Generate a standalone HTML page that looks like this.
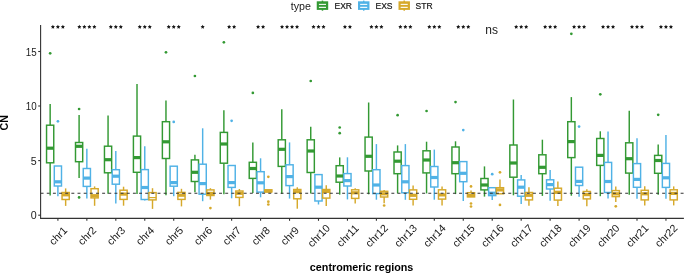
<!DOCTYPE html>
<html><head><meta charset="utf-8"><style>
html,body{margin:0;padding:0;background:#fff;}
svg{display:block;will-change:transform;font-family:"Liberation Sans",sans-serif;}
</style></head><body>
<svg width="685" height="274" viewBox="0 0 685 274">
<rect width="685" height="274" fill="#fff"/>
<!-- legend -->
<text x="290.8" y="10.2" font-size="10.67" fill="#1A1A1A">type</text>
<line x1="322.47" y1="0.6" x2="322.47" y2="10.7" stroke="#339933" stroke-width="1.5"/><rect x="316.75" y="1.3" width="11.45" height="8.6" fill="#339933"/><rect x="318.9" y="3.85" width="7.1" height="1.05" fill="#fff"/><rect x="318.9" y="6.8" width="7.1" height="1.1" fill="#fff"/>
<text x="334.5" y="9.0" font-size="8.53" fill="#1A1A1A" stroke="#1A1A1A" stroke-width="0.22">EXR</text>
<line x1="363.72" y1="0.6" x2="363.72" y2="10.7" stroke="#50B2E6" stroke-width="1.5"/><rect x="358" y="1.3" width="11.45" height="8.6" fill="#50B2E6"/><rect x="360.15" y="3.85" width="7.1" height="1.05" fill="#fff"/><rect x="360.15" y="6.8" width="7.1" height="1.1" fill="#fff"/>
<text x="375.5" y="9.0" font-size="8.53" fill="#1A1A1A" stroke="#1A1A1A" stroke-width="0.22">EXS</text>
<line x1="404.22" y1="0.6" x2="404.22" y2="10.7" stroke="#D6A92B" stroke-width="1.5"/><rect x="398.5" y="1.3" width="11.45" height="8.6" fill="#D6A92B"/><rect x="400.65" y="3.85" width="7.1" height="1.05" fill="#fff"/><rect x="400.65" y="6.8" width="7.1" height="1.1" fill="#fff"/>
<text x="415.6" y="9.0" font-size="8.53" fill="#1A1A1A" stroke="#1A1A1A" stroke-width="0.22">STR</text>
<!-- boxes -->
<g stroke="#339933" stroke-width="1.45"><line x1="50.15" y1="103.9" x2="50.15" y2="125.2"/><line x1="50.15" y1="162.8" x2="50.15" y2="195.5"/><rect x="46.55" y="125.2" width="7.2" height="37.6" fill="#fff"/><line x1="46.55" y1="148.2" x2="53.75" y2="148.2" stroke-width="3.2"/></g>
<circle cx="50.15" cy="53.3" r="1.35" fill="#339933"/>
<g stroke="#50B2E6" stroke-width="1.45"><line x1="57.9" y1="186" x2="57.9" y2="196.3"/><rect x="54.3" y="166" width="7.2" height="20" fill="#fff"/><line x1="54.3" y1="181.8" x2="61.5" y2="181.8" stroke-width="3.2"/></g>
<circle cx="57.9" cy="121.3" r="1.35" fill="#50B2E6"/>
<g stroke="#D6A92B" stroke-width="1.45"><line x1="65.65" y1="188.4" x2="65.65" y2="192.5"/><line x1="65.65" y1="199.5" x2="65.65" y2="205.9"/><rect x="62.05" y="192.5" width="7.2" height="7" fill="#fff"/><line x1="62.05" y1="194.8" x2="69.25" y2="194.8" stroke-width="3.2"/></g>
<g stroke="#339933" stroke-width="1.45"><line x1="79.1" y1="114.9" x2="79.1" y2="142.5"/><line x1="79.1" y1="161.7" x2="79.1" y2="178.1"/><rect x="75.5" y="142.5" width="7.2" height="19.2" fill="#fff"/><line x1="75.5" y1="146.3" x2="82.7" y2="146.3" stroke-width="3.2"/></g>
<circle cx="79.1" cy="109" r="1.35" fill="#339933"/>
<circle cx="79.1" cy="197.4" r="1.35" fill="#339933"/>
<g stroke="#50B2E6" stroke-width="1.45"><line x1="86.85" y1="148.7" x2="86.85" y2="168.5"/><line x1="86.85" y1="186.4" x2="86.85" y2="198.5"/><rect x="83.25" y="168.5" width="7.2" height="17.9" fill="#fff"/><line x1="83.25" y1="178.1" x2="90.45" y2="178.1" stroke-width="3.2"/></g>
<g stroke="#D6A92B" stroke-width="1.45"><line x1="94.6" y1="186.4" x2="94.6" y2="188.7"/><line x1="94.6" y1="197.9" x2="94.6" y2="205.8"/><rect x="91" y="188.7" width="7.2" height="9.2" fill="#fff"/><line x1="91" y1="195.7" x2="98.2" y2="195.7" stroke-width="3.2"/></g>
<g stroke="#339933" stroke-width="1.45"><line x1="108.06" y1="115.4" x2="108.06" y2="146.2"/><line x1="108.06" y1="172.8" x2="108.06" y2="193.7"/><rect x="104.46" y="146.2" width="7.2" height="26.6" fill="#fff"/><line x1="104.46" y1="159.7" x2="111.66" y2="159.7" stroke-width="3.2"/></g>
<g stroke="#50B2E6" stroke-width="1.45"><line x1="115.81" y1="151.1" x2="115.81" y2="169.7"/><line x1="115.81" y1="184.2" x2="115.81" y2="203.6"/><rect x="112.21" y="169.7" width="7.2" height="14.5" fill="#fff"/><line x1="112.21" y1="176.2" x2="119.41" y2="176.2" stroke-width="3.2"/></g>
<g stroke="#D6A92B" stroke-width="1.45"><line x1="123.56" y1="186.7" x2="123.56" y2="190.2"/><line x1="123.56" y1="199.4" x2="123.56" y2="205.7"/><rect x="119.96" y="190.2" width="7.2" height="9.2" fill="#fff"/><line x1="119.96" y1="194.1" x2="127.16" y2="194.1" stroke-width="3.2"/></g>
<g stroke="#339933" stroke-width="1.45"><line x1="137.01" y1="84" x2="137.01" y2="136.1"/><line x1="137.01" y1="172.3" x2="137.01" y2="193.9"/><rect x="133.41" y="136.1" width="7.2" height="36.2" fill="#fff"/><line x1="133.41" y1="157.6" x2="140.61" y2="157.6" stroke-width="3.2"/></g>
<g stroke="#50B2E6" stroke-width="1.45"><line x1="144.76" y1="146.3" x2="144.76" y2="169.6"/><line x1="144.76" y1="199.5" x2="144.76" y2="200.6"/><rect x="141.16" y="169.6" width="7.2" height="29.9" fill="#fff"/><line x1="141.16" y1="187.5" x2="148.36" y2="187.5" stroke-width="3.2"/></g>
<g stroke="#D6A92B" stroke-width="1.45"><line x1="152.51" y1="188.2" x2="152.51" y2="192.6"/><line x1="152.51" y1="199.9" x2="152.51" y2="208.9"/><rect x="148.91" y="192.6" width="7.2" height="7.3" fill="#fff"/><line x1="148.91" y1="197.6" x2="156.11" y2="197.6" stroke-width="1.2"/></g>
<g stroke="#339933" stroke-width="1.45"><line x1="165.97" y1="100.5" x2="165.97" y2="121.7"/><line x1="165.97" y1="158.5" x2="165.97" y2="195.2"/><rect x="162.37" y="121.7" width="7.2" height="36.8" fill="#fff"/><line x1="162.37" y1="141.8" x2="169.57" y2="141.8" stroke-width="3.2"/></g>
<circle cx="165.97" cy="52.3" r="1.35" fill="#339933"/>
<g stroke="#50B2E6" stroke-width="1.45"><line x1="173.72" y1="186.2" x2="173.72" y2="196.2"/><rect x="170.12" y="166.2" width="7.2" height="20" fill="#fff"/><line x1="170.12" y1="182.6" x2="177.32" y2="182.6" stroke-width="3.2"/></g>
<circle cx="173.72" cy="121.9" r="1.35" fill="#50B2E6"/>
<g stroke="#D6A92B" stroke-width="1.45"><line x1="181.47" y1="188.8" x2="181.47" y2="192.4"/><line x1="181.47" y1="199.4" x2="181.47" y2="206.4"/><rect x="177.87" y="192.4" width="7.2" height="7" fill="#fff"/><line x1="177.87" y1="195.2" x2="185.07" y2="195.2" stroke-width="3.2"/></g>
<g stroke="#339933" stroke-width="1.45"><line x1="194.92" y1="154.7" x2="194.92" y2="159.9"/><line x1="194.92" y1="181.5" x2="194.92" y2="192.2"/><rect x="191.32" y="159.9" width="7.2" height="21.6" fill="#fff"/><line x1="191.32" y1="172.3" x2="198.52" y2="172.3" stroke-width="3.2"/></g>
<circle cx="194.92" cy="76" r="1.35" fill="#339933"/>
<g stroke="#50B2E6" stroke-width="1.45"><line x1="202.67" y1="128.3" x2="202.67" y2="164.2"/><line x1="202.67" y1="194.2" x2="202.67" y2="201.2"/><rect x="199.07" y="164.2" width="7.2" height="30" fill="#fff"/><line x1="199.07" y1="183.6" x2="206.27" y2="183.6" stroke-width="3.2"/></g>
<g stroke="#D6A92B" stroke-width="1.45"><line x1="210.42" y1="188.2" x2="210.42" y2="189.9"/><line x1="210.42" y1="195.5" x2="210.42" y2="199.6"/><rect x="206.82" y="189.9" width="7.2" height="5.6" fill="#fff"/><line x1="206.82" y1="193.4" x2="214.02" y2="193.4" stroke-width="3.2"/></g>
<circle cx="210.42" cy="208.1" r="1.35" fill="#D6A92B"/>
<g stroke="#339933" stroke-width="1.45"><line x1="223.88" y1="110.2" x2="223.88" y2="132.4"/><line x1="223.88" y1="163.2" x2="223.88" y2="194.3"/><rect x="220.28" y="132.4" width="7.2" height="30.8" fill="#fff"/><line x1="220.28" y1="144" x2="227.48" y2="144" stroke-width="3.2"/></g>
<circle cx="223.88" cy="42.3" r="1.35" fill="#339933"/>
<g stroke="#50B2E6" stroke-width="1.45"><line x1="231.63" y1="187.4" x2="231.63" y2="198.3"/><rect x="228.03" y="165.5" width="7.2" height="21.9" fill="#fff"/><line x1="228.03" y1="182.6" x2="235.23" y2="182.6" stroke-width="3.2"/></g>
<circle cx="231.63" cy="120.8" r="1.35" fill="#50B2E6"/>
<g stroke="#D6A92B" stroke-width="1.45"><line x1="239.38" y1="189" x2="239.38" y2="191"/><line x1="239.38" y1="197.4" x2="239.38" y2="206.2"/><rect x="235.78" y="191" width="7.2" height="6.4" fill="#fff"/><line x1="235.78" y1="193.3" x2="242.98" y2="193.3" stroke-width="3.2"/></g>
<g stroke="#339933" stroke-width="1.45"><line x1="252.83" y1="142.6" x2="252.83" y2="162.3"/><line x1="252.83" y1="178.4" x2="252.83" y2="192.9"/><rect x="249.23" y="162.3" width="7.2" height="16.1" fill="#fff"/><line x1="249.23" y1="168.5" x2="256.44" y2="168.5" stroke-width="3.2"/></g>
<circle cx="252.83" cy="92.9" r="1.35" fill="#339933"/>
<g stroke="#50B2E6" stroke-width="1.45"><line x1="260.58" y1="158.3" x2="260.58" y2="171.7"/><line x1="260.58" y1="192.1" x2="260.58" y2="197.3"/><rect x="256.98" y="171.7" width="7.2" height="20.4" fill="#fff"/><line x1="256.98" y1="182.8" x2="264.19" y2="182.8" stroke-width="3.2"/></g>
<g stroke="#D6A92B" stroke-width="1.45"><rect x="264.73" y="189.8" width="7.2" height="2" fill="#fff"/><line x1="264.73" y1="191.2" x2="271.94" y2="191.2" stroke-width="3.2"/></g>
<circle cx="268.33" cy="176.8" r="1.35" fill="#D6A92B"/>
<circle cx="268.33" cy="201.7" r="1.35" fill="#D6A92B"/>
<circle cx="268.33" cy="204.5" r="1.35" fill="#D6A92B"/>
<g stroke="#339933" stroke-width="1.45"><line x1="281.79" y1="109.2" x2="281.79" y2="139.8"/><line x1="281.79" y1="166.4" x2="281.79" y2="193.9"/><rect x="278.19" y="139.8" width="7.2" height="26.6" fill="#fff"/><line x1="278.19" y1="149.3" x2="285.39" y2="149.3" stroke-width="3.2"/></g>
<g stroke="#50B2E6" stroke-width="1.45"><line x1="289.54" y1="142.4" x2="289.54" y2="164.8"/><line x1="289.54" y1="185.6" x2="289.54" y2="198.6"/><rect x="285.94" y="164.8" width="7.2" height="20.8" fill="#fff"/><line x1="285.94" y1="176.6" x2="293.14" y2="176.6" stroke-width="3.2"/></g>
<g stroke="#D6A92B" stroke-width="1.45"><line x1="297.29" y1="187.3" x2="297.29" y2="189.5"/><line x1="297.29" y1="198.8" x2="297.29" y2="208.7"/><rect x="293.69" y="189.5" width="7.2" height="9.3" fill="#fff"/><line x1="293.69" y1="191.7" x2="300.89" y2="191.7" stroke-width="3.2"/></g>
<g stroke="#339933" stroke-width="1.45"><line x1="310.74" y1="126.7" x2="310.74" y2="139.8"/><line x1="310.74" y1="172.5" x2="310.74" y2="193.6"/><rect x="307.14" y="139.8" width="7.2" height="32.7" fill="#fff"/><line x1="307.14" y1="151" x2="314.34" y2="151" stroke-width="3.2"/></g>
<circle cx="310.74" cy="81" r="1.35" fill="#339933"/>
<g stroke="#50B2E6" stroke-width="1.45"><line x1="318.49" y1="201" x2="318.49" y2="204.5"/><rect x="314.89" y="174.6" width="7.2" height="26.4" fill="#fff"/><line x1="314.89" y1="187.2" x2="322.09" y2="187.2" stroke-width="3.2"/></g>
<g stroke="#D6A92B" stroke-width="1.45"><line x1="326.24" y1="185.3" x2="326.24" y2="189.5"/><line x1="326.24" y1="198.1" x2="326.24" y2="206.1"/><rect x="322.64" y="189.5" width="7.2" height="8.6" fill="#fff"/><line x1="322.64" y1="191.4" x2="329.84" y2="191.4" stroke-width="3.2"/></g>
<g stroke="#339933" stroke-width="1.45"><line x1="339.7" y1="157.4" x2="339.7" y2="165.7"/><line x1="339.7" y1="182.2" x2="339.7" y2="194.6"/><rect x="336.1" y="165.7" width="7.2" height="16.5" fill="#fff"/><line x1="336.1" y1="176" x2="343.3" y2="176" stroke-width="3.2"/></g>
<circle cx="339.7" cy="127.5" r="1.35" fill="#339933"/>
<circle cx="339.7" cy="133.2" r="1.35" fill="#339933"/>
<g stroke="#50B2E6" stroke-width="1.45"><line x1="347.45" y1="157.3" x2="347.45" y2="173.6"/><line x1="347.45" y1="186" x2="347.45" y2="199.4"/><rect x="343.85" y="173.6" width="7.2" height="12.4" fill="#fff"/><line x1="343.85" y1="180.6" x2="351.05" y2="180.6" stroke-width="3.2"/></g>
<g stroke="#D6A92B" stroke-width="1.45"><line x1="355.2" y1="188.3" x2="355.2" y2="189.8"/><line x1="355.2" y1="198.4" x2="355.2" y2="203.4"/><rect x="351.6" y="189.8" width="7.2" height="8.6" fill="#fff"/><line x1="351.6" y1="192.8" x2="358.8" y2="192.8" stroke-width="3.2"/></g>
<g stroke="#339933" stroke-width="1.45"><line x1="368.65" y1="102.5" x2="368.65" y2="137.1"/><line x1="368.65" y1="171" x2="368.65" y2="194.3"/><rect x="365.05" y="137.1" width="7.2" height="33.9" fill="#fff"/><line x1="365.05" y1="156.3" x2="372.25" y2="156.3" stroke-width="3.2"/></g>
<g stroke="#50B2E6" stroke-width="1.45"><line x1="376.4" y1="144.1" x2="376.4" y2="169.7"/><line x1="376.4" y1="193.6" x2="376.4" y2="199.7"/><rect x="372.8" y="169.7" width="7.2" height="23.9" fill="#fff"/><line x1="372.8" y1="185" x2="380" y2="185" stroke-width="3.2"/></g>
<g stroke="#D6A92B" stroke-width="1.45"><line x1="384.15" y1="189.9" x2="384.15" y2="191.3"/><line x1="384.15" y1="197" x2="384.15" y2="203.2"/><rect x="380.55" y="191.3" width="7.2" height="5.7" fill="#fff"/><line x1="380.55" y1="193.8" x2="387.75" y2="193.8" stroke-width="3.2"/></g>
<circle cx="384.15" cy="205.5" r="1.35" fill="#D6A92B"/>
<g stroke="#339933" stroke-width="1.45"><line x1="397.61" y1="145.4" x2="397.61" y2="152"/><line x1="397.61" y1="173.7" x2="397.61" y2="193.4"/><rect x="394.01" y="152" width="7.2" height="21.7" fill="#fff"/><line x1="394.01" y1="161.2" x2="401.21" y2="161.2" stroke-width="3.2"/></g>
<circle cx="397.61" cy="115.2" r="1.35" fill="#339933"/>
<g stroke="#50B2E6" stroke-width="1.45"><line x1="405.36" y1="144.1" x2="405.36" y2="165.6"/><line x1="405.36" y1="192.8" x2="405.36" y2="199.8"/><rect x="401.76" y="165.6" width="7.2" height="27.2" fill="#fff"/><line x1="401.76" y1="181.8" x2="408.96" y2="181.8" stroke-width="3.2"/></g>
<g stroke="#D6A92B" stroke-width="1.45"><line x1="413.11" y1="185.6" x2="413.11" y2="189.9"/><line x1="413.11" y1="199.3" x2="413.11" y2="205.6"/><rect x="409.51" y="189.9" width="7.2" height="9.4" fill="#fff"/><line x1="409.51" y1="195.3" x2="416.71" y2="195.3" stroke-width="3.2"/></g>
<g stroke="#339933" stroke-width="1.45"><line x1="426.56" y1="141.7" x2="426.56" y2="150.8"/><line x1="426.56" y1="172.9" x2="426.56" y2="193.4"/><rect x="422.96" y="150.8" width="7.2" height="22.1" fill="#fff"/><line x1="422.96" y1="160" x2="430.16" y2="160" stroke-width="3.2"/></g>
<circle cx="426.56" cy="111" r="1.35" fill="#339933"/>
<g stroke="#50B2E6" stroke-width="1.45"><line x1="434.31" y1="149.6" x2="434.31" y2="166.5"/><line x1="434.31" y1="187" x2="434.31" y2="199.7"/><rect x="430.71" y="166.5" width="7.2" height="20.5" fill="#fff"/><line x1="430.71" y1="177.5" x2="437.91" y2="177.5" stroke-width="3.2"/></g>
<g stroke="#D6A92B" stroke-width="1.45"><line x1="442.06" y1="186.4" x2="442.06" y2="189.8"/><line x1="442.06" y1="199.1" x2="442.06" y2="205.5"/><rect x="438.46" y="189.8" width="7.2" height="9.3" fill="#fff"/><line x1="438.46" y1="194.9" x2="445.66" y2="194.9" stroke-width="3.2"/></g>
<g stroke="#339933" stroke-width="1.45"><line x1="455.52" y1="141.3" x2="455.52" y2="147"/><line x1="455.52" y1="173.7" x2="455.52" y2="194.1"/><rect x="451.92" y="147" width="7.2" height="26.7" fill="#fff"/><line x1="451.92" y1="162.7" x2="459.12" y2="162.7" stroke-width="3.2"/></g>
<circle cx="455.52" cy="102.1" r="1.35" fill="#339933"/>
<g stroke="#50B2E6" stroke-width="1.45"><line x1="463.27" y1="181.7" x2="463.27" y2="201.1"/><rect x="459.67" y="161.6" width="7.2" height="20.1" fill="#fff"/><line x1="459.67" y1="173.3" x2="466.87" y2="173.3" stroke-width="3.2"/></g>
<circle cx="463.27" cy="130.1" r="1.35" fill="#50B2E6"/>
<g stroke="#D6A92B" stroke-width="1.45"><line x1="471.02" y1="190.4" x2="471.02" y2="192.7"/><rect x="467.42" y="192.7" width="7.2" height="4.2" fill="#fff"/><line x1="467.42" y1="195.5" x2="474.62" y2="195.5" stroke-width="3.2"/></g>
<circle cx="471.02" cy="186.4" r="1.35" fill="#D6A92B"/>
<circle cx="471.02" cy="203.5" r="1.35" fill="#D6A92B"/>
<circle cx="471.02" cy="206.5" r="1.35" fill="#D6A92B"/>
<g stroke="#339933" stroke-width="1.45"><line x1="484.47" y1="166.4" x2="484.47" y2="178.5"/><line x1="484.47" y1="189.9" x2="484.47" y2="196.6"/><rect x="480.87" y="178.5" width="7.2" height="11.4" fill="#fff"/><line x1="480.87" y1="185" x2="488.07" y2="185" stroke-width="3.2"/></g>
<g stroke="#50B2E6" stroke-width="1.45"><line x1="492.22" y1="195.6" x2="492.22" y2="200"/><rect x="488.62" y="187.7" width="7.2" height="7.9" fill="#fff"/><line x1="488.62" y1="193.2" x2="495.82" y2="193.2" stroke-width="3.2"/></g>
<circle cx="492.22" cy="174.2" r="1.35" fill="#50B2E6"/>
<g stroke="#D6A92B" stroke-width="1.45"><line x1="499.97" y1="179.5" x2="499.97" y2="187.7"/><rect x="496.37" y="187.7" width="7.2" height="6.1" fill="#fff"/><line x1="496.37" y1="189.9" x2="503.57" y2="189.9" stroke-width="3.2"/></g>
<circle cx="499.97" cy="172.3" r="1.35" fill="#D6A92B"/>
<circle cx="499.97" cy="204.9" r="1.35" fill="#D6A92B"/>
<g stroke="#339933" stroke-width="1.45"><line x1="513.43" y1="99.5" x2="513.43" y2="145"/><line x1="513.43" y1="177.2" x2="513.43" y2="195.3"/><rect x="509.83" y="145" width="7.2" height="32.2" fill="#fff"/><line x1="509.83" y1="163" x2="517.03" y2="163" stroke-width="3.2"/></g>
<g stroke="#50B2E6" stroke-width="1.45"><line x1="521.18" y1="175.1" x2="521.18" y2="179.9"/><line x1="521.18" y1="196.2" x2="521.18" y2="204.1"/><rect x="517.58" y="179.9" width="7.2" height="16.3" fill="#fff"/><line x1="517.58" y1="187.2" x2="524.78" y2="187.2" stroke-width="3.2"/></g>
<g stroke="#D6A92B" stroke-width="1.45"><line x1="528.93" y1="187.2" x2="528.93" y2="192.5"/><line x1="528.93" y1="199.9" x2="528.93" y2="205.7"/><rect x="525.33" y="192.5" width="7.2" height="7.4" fill="#fff"/><line x1="525.33" y1="195.3" x2="532.53" y2="195.3" stroke-width="3.2"/></g>
<g stroke="#339933" stroke-width="1.45"><line x1="542.38" y1="139.7" x2="542.38" y2="154.8"/><line x1="542.38" y1="173.7" x2="542.38" y2="195.9"/><rect x="538.78" y="154.8" width="7.2" height="18.9" fill="#fff"/><line x1="538.78" y1="167.3" x2="545.99" y2="167.3" stroke-width="3.2"/></g>
<g stroke="#50B2E6" stroke-width="1.45"><line x1="550.13" y1="170.1" x2="550.13" y2="179.8"/><line x1="550.13" y1="189" x2="550.13" y2="200.8"/><rect x="546.53" y="179.8" width="7.2" height="9.2" fill="#fff"/><line x1="546.53" y1="184.6" x2="553.74" y2="184.6" stroke-width="3.2"/></g>
<g stroke="#D6A92B" stroke-width="1.45"><line x1="557.88" y1="181.5" x2="557.88" y2="188.2"/><line x1="557.88" y1="200.1" x2="557.88" y2="206.1"/><rect x="554.28" y="188.2" width="7.2" height="11.9" fill="#fff"/><line x1="554.28" y1="192.3" x2="561.49" y2="192.3" stroke-width="3.2"/></g>
<g stroke="#339933" stroke-width="1.45"><line x1="571.34" y1="97.1" x2="571.34" y2="121.7"/><line x1="571.34" y1="157.6" x2="571.34" y2="195.7"/><rect x="567.74" y="121.7" width="7.2" height="35.9" fill="#fff"/><line x1="567.74" y1="141.6" x2="574.94" y2="141.6" stroke-width="3.2"/></g>
<circle cx="571.34" cy="33.8" r="1.35" fill="#339933"/>
<g stroke="#50B2E6" stroke-width="1.45"><line x1="579.09" y1="185.5" x2="579.09" y2="196.8"/><rect x="575.49" y="167.2" width="7.2" height="18.3" fill="#fff"/><line x1="575.49" y1="181.4" x2="582.69" y2="181.4" stroke-width="3.2"/></g>
<circle cx="579.09" cy="126.6" r="1.35" fill="#50B2E6"/>
<g stroke="#D6A92B" stroke-width="1.45"><line x1="586.84" y1="189.3" x2="586.84" y2="191.5"/><line x1="586.84" y1="198.9" x2="586.84" y2="206.3"/><rect x="583.24" y="191.5" width="7.2" height="7.4" fill="#fff"/><line x1="583.24" y1="194.6" x2="590.44" y2="194.6" stroke-width="3.2"/></g>
<g stroke="#339933" stroke-width="1.45"><line x1="600.29" y1="131.3" x2="600.29" y2="138.5"/><line x1="600.29" y1="165.4" x2="600.29" y2="196.2"/><rect x="596.69" y="138.5" width="7.2" height="26.9" fill="#fff"/><line x1="596.69" y1="155.4" x2="603.89" y2="155.4" stroke-width="3.2"/></g>
<circle cx="600.29" cy="94.3" r="1.35" fill="#339933"/>
<g stroke="#50B2E6" stroke-width="1.45"><line x1="608.04" y1="131.5" x2="608.04" y2="162.4"/><line x1="608.04" y1="192.5" x2="608.04" y2="198.4"/><rect x="604.44" y="162.4" width="7.2" height="30.1" fill="#fff"/><line x1="604.44" y1="181.5" x2="611.64" y2="181.5" stroke-width="3.2"/></g>
<g stroke="#D6A92B" stroke-width="1.45"><line x1="615.79" y1="186.5" x2="615.79" y2="190.6"/><line x1="615.79" y1="196.6" x2="615.79" y2="202"/><rect x="612.19" y="190.6" width="7.2" height="6" fill="#fff"/><line x1="612.19" y1="193.8" x2="619.39" y2="193.8" stroke-width="3.2"/></g>
<circle cx="615.79" cy="206.3" r="1.35" fill="#D6A92B"/>
<g stroke="#339933" stroke-width="1.45"><line x1="629.25" y1="110.7" x2="629.25" y2="142.8"/><line x1="629.25" y1="173.1" x2="629.25" y2="194.8"/><rect x="625.65" y="142.8" width="7.2" height="30.3" fill="#fff"/><line x1="625.65" y1="158.7" x2="632.85" y2="158.7" stroke-width="3.2"/></g>
<g stroke="#50B2E6" stroke-width="1.45"><line x1="637" y1="138.3" x2="637" y2="163.6"/><line x1="637" y1="187.3" x2="637" y2="198.8"/><rect x="633.4" y="163.6" width="7.2" height="23.7" fill="#fff"/><line x1="633.4" y1="179.4" x2="640.6" y2="179.4" stroke-width="3.2"/></g>
<g stroke="#D6A92B" stroke-width="1.45"><line x1="644.75" y1="186.3" x2="644.75" y2="190.3"/><line x1="644.75" y1="199.9" x2="644.75" y2="205.4"/><rect x="641.15" y="190.3" width="7.2" height="9.6" fill="#fff"/><line x1="641.15" y1="193.8" x2="648.35" y2="193.8" stroke-width="3.2"/></g>
<g stroke="#339933" stroke-width="1.45"><line x1="658.2" y1="144.6" x2="658.2" y2="155.4"/><line x1="658.2" y1="173.3" x2="658.2" y2="194.7"/><rect x="654.6" y="155.4" width="7.2" height="17.9" fill="#fff"/><line x1="654.6" y1="160.5" x2="661.8" y2="160.5" stroke-width="3.2"/></g>
<circle cx="658.2" cy="114.8" r="1.35" fill="#339933"/>
<g stroke="#50B2E6" stroke-width="1.45"><line x1="665.95" y1="134.9" x2="665.95" y2="163.4"/><line x1="665.95" y1="187.4" x2="665.95" y2="198.8"/><rect x="662.35" y="163.4" width="7.2" height="24" fill="#fff"/><line x1="662.35" y1="177.8" x2="669.55" y2="177.8" stroke-width="3.2"/></g>
<g stroke="#D6A92B" stroke-width="1.45"><line x1="673.7" y1="186.4" x2="673.7" y2="189.8"/><line x1="673.7" y1="199.9" x2="673.7" y2="205.4"/><rect x="670.1" y="189.8" width="7.2" height="10.1" fill="#fff"/><line x1="670.1" y1="193.4" x2="677.3" y2="193.4" stroke-width="3.2"/></g>
<!-- hline -->
<line x1="40.6" y1="193.3" x2="683.8" y2="193.3" stroke="#333" stroke-width="1.1" stroke-dasharray="2.95,3.204"/>
<!-- axes -->
<g stroke="#333" stroke-width="1.1" fill="none">
<polyline points="40.6,24.9 40.6,218.4 683.9,218.4"/>
<line x1="38.2" y1="215.2" x2="40.5" y2="215.2"/><line x1="38.2" y1="160.6" x2="40.5" y2="160.6"/><line x1="38.2" y1="106" x2="40.5" y2="106"/><line x1="38.2" y1="51.5" x2="40.5" y2="51.5"/>
<line x1="57.9" y1="218.4" x2="57.9" y2="220.8"/><line x1="86.85" y1="218.4" x2="86.85" y2="220.8"/><line x1="115.81" y1="218.4" x2="115.81" y2="220.8"/><line x1="144.76" y1="218.4" x2="144.76" y2="220.8"/><line x1="173.72" y1="218.4" x2="173.72" y2="220.8"/><line x1="202.67" y1="218.4" x2="202.67" y2="220.8"/><line x1="231.63" y1="218.4" x2="231.63" y2="220.8"/><line x1="260.58" y1="218.4" x2="260.58" y2="220.8"/><line x1="289.54" y1="218.4" x2="289.54" y2="220.8"/><line x1="318.49" y1="218.4" x2="318.49" y2="220.8"/><line x1="347.45" y1="218.4" x2="347.45" y2="220.8"/><line x1="376.4" y1="218.4" x2="376.4" y2="220.8"/><line x1="405.36" y1="218.4" x2="405.36" y2="220.8"/><line x1="434.31" y1="218.4" x2="434.31" y2="220.8"/><line x1="463.27" y1="218.4" x2="463.27" y2="220.8"/><line x1="492.22" y1="218.4" x2="492.22" y2="220.8"/><line x1="521.18" y1="218.4" x2="521.18" y2="220.8"/><line x1="550.13" y1="218.4" x2="550.13" y2="220.8"/><line x1="579.09" y1="218.4" x2="579.09" y2="220.8"/><line x1="608.04" y1="218.4" x2="608.04" y2="220.8"/><line x1="637" y1="218.4" x2="637" y2="220.8"/><line x1="665.95" y1="218.4" x2="665.95" y2="220.8"/>
</g>
<g font-size="10.67" fill="#1A1A1A"><text x="36.6" y="219.45" text-anchor="end">0</text><text x="36.6" y="164.85" text-anchor="end">5</text><text x="36.6" y="110.25" text-anchor="end" textLength="10.9" lengthAdjust="spacingAndGlyphs">10</text><text x="36.6" y="55.75" text-anchor="end" textLength="10.9" lengthAdjust="spacingAndGlyphs">15</text></g>
<g font-size="10.67" fill="#1A1A1A"><text transform="translate(58.1,235.7) rotate(-45)" x="0" y="3.7" text-anchor="middle">chr1</text><text transform="translate(87.05,235.7) rotate(-45)" x="0" y="3.7" text-anchor="middle">chr2</text><text transform="translate(116.01,235.7) rotate(-45)" x="0" y="3.7" text-anchor="middle">chr3</text><text transform="translate(144.96,235.7) rotate(-45)" x="0" y="3.7" text-anchor="middle">chr4</text><text transform="translate(173.92,235.7) rotate(-45)" x="0" y="3.7" text-anchor="middle">chr5</text><text transform="translate(202.87,235.7) rotate(-45)" x="0" y="3.7" text-anchor="middle">chr6</text><text transform="translate(231.83,235.7) rotate(-45)" x="0" y="3.7" text-anchor="middle">chr7</text><text transform="translate(260.78,235.7) rotate(-45)" x="0" y="3.7" text-anchor="middle">chr8</text><text transform="translate(289.74,235.7) rotate(-45)" x="0" y="3.7" text-anchor="middle">chr9</text><text transform="translate(318.69,235.7) rotate(-45)" x="0" y="3.7" text-anchor="middle">chr10</text><text transform="translate(347.65,235.7) rotate(-45)" x="0" y="3.7" text-anchor="middle">chr11</text><text transform="translate(376.6,235.7) rotate(-45)" x="0" y="3.7" text-anchor="middle">chr12</text><text transform="translate(405.56,235.7) rotate(-45)" x="0" y="3.7" text-anchor="middle">chr13</text><text transform="translate(434.51,235.7) rotate(-45)" x="0" y="3.7" text-anchor="middle">chr14</text><text transform="translate(463.47,235.7) rotate(-45)" x="0" y="3.7" text-anchor="middle">chr15</text><text transform="translate(492.42,235.7) rotate(-45)" x="0" y="3.7" text-anchor="middle">chr16</text><text transform="translate(521.38,235.7) rotate(-45)" x="0" y="3.7" text-anchor="middle">chr17</text><text transform="translate(550.34,235.7) rotate(-45)" x="0" y="3.7" text-anchor="middle">chr18</text><text transform="translate(579.29,235.7) rotate(-45)" x="0" y="3.7" text-anchor="middle">chr19</text><text transform="translate(608.25,235.7) rotate(-45)" x="0" y="3.7" text-anchor="middle">chr20</text><text transform="translate(637.2,235.7) rotate(-45)" x="0" y="3.7" text-anchor="middle">chr21</text><text transform="translate(666.15,235.7) rotate(-45)" x="0" y="3.7" text-anchor="middle">chr22</text></g>
<g fill="#1A1A1A"><polygon points="52.9,24.85 53.55,26.11 54.94,26.34 53.95,27.34 54.16,28.74 52.9,28.1 51.64,28.74 51.85,27.34 50.86,26.34 52.25,26.11"/><polygon points="57.9,24.85 58.55,26.11 59.94,26.34 58.95,27.34 59.16,28.74 57.9,28.1 56.64,28.74 56.85,27.34 55.86,26.34 57.25,26.11"/><polygon points="62.9,24.85 63.55,26.11 64.94,26.34 63.95,27.34 64.16,28.74 62.9,28.1 61.64,28.74 61.85,27.34 60.86,26.34 62.25,26.11"/><polygon points="79.35,24.85 80,26.11 81.4,26.34 80.4,27.34 80.62,28.74 79.35,28.1 78.09,28.74 78.31,27.34 77.31,26.34 78.71,26.11"/><polygon points="84.35,24.85 85,26.11 86.4,26.34 85.4,27.34 85.62,28.74 84.35,28.1 83.09,28.74 83.31,27.34 82.31,26.34 83.71,26.11"/><polygon points="89.35,24.85 90,26.11 91.4,26.34 90.4,27.34 90.62,28.74 89.35,28.1 88.09,28.74 88.31,27.34 87.31,26.34 88.71,26.11"/><polygon points="94.35,24.85 95,26.11 96.4,26.34 95.4,27.34 95.62,28.74 94.35,28.1 93.09,28.74 93.31,27.34 92.31,26.34 93.71,26.11"/><polygon points="110.81,24.85 111.46,26.11 112.85,26.34 111.86,27.34 112.07,28.74 110.81,28.1 109.55,28.74 109.76,27.34 108.77,26.34 110.16,26.11"/><polygon points="115.81,24.85 116.46,26.11 117.85,26.34 116.86,27.34 117.07,28.74 115.81,28.1 114.55,28.74 114.76,27.34 113.77,26.34 115.16,26.11"/><polygon points="120.81,24.85 121.46,26.11 122.85,26.34 121.86,27.34 122.07,28.74 120.81,28.1 119.55,28.74 119.76,27.34 118.77,26.34 120.16,26.11"/><polygon points="139.76,24.85 140.41,26.11 141.81,26.34 140.81,27.34 141.03,28.74 139.76,28.1 138.5,28.74 138.72,27.34 137.72,26.34 139.12,26.11"/><polygon points="144.76,24.85 145.41,26.11 146.81,26.34 145.81,27.34 146.03,28.74 144.76,28.1 143.5,28.74 143.72,27.34 142.72,26.34 144.12,26.11"/><polygon points="149.76,24.85 150.41,26.11 151.81,26.34 150.81,27.34 151.03,28.74 149.76,28.1 148.5,28.74 148.72,27.34 147.72,26.34 149.12,26.11"/><polygon points="168.72,24.85 169.37,26.11 170.76,26.34 169.77,27.34 169.98,28.74 168.72,28.1 167.46,28.74 167.67,27.34 166.68,26.34 168.07,26.11"/><polygon points="173.72,24.85 174.37,26.11 175.76,26.34 174.77,27.34 174.98,28.74 173.72,28.1 172.46,28.74 172.67,27.34 171.68,26.34 173.07,26.11"/><polygon points="178.72,24.85 179.37,26.11 180.76,26.34 179.77,27.34 179.98,28.74 178.72,28.1 177.46,28.74 177.67,27.34 176.68,26.34 178.07,26.11"/><polygon points="202.67,24.85 203.32,26.11 204.72,26.34 203.72,27.34 203.94,28.74 202.67,28.1 201.41,28.74 201.63,27.34 200.63,26.34 202.03,26.11"/><polygon points="229.13,24.85 229.78,26.11 231.17,26.34 230.18,27.34 230.39,28.74 229.13,28.1 227.87,28.74 228.08,27.34 227.09,26.34 228.48,26.11"/><polygon points="234.13,24.85 234.78,26.11 236.17,26.34 235.18,27.34 235.39,28.74 234.13,28.1 232.87,28.74 233.08,27.34 232.09,26.34 233.48,26.11"/><polygon points="258.08,24.85 258.73,26.11 260.13,26.34 259.13,27.34 259.35,28.74 258.08,28.1 256.82,28.74 257.04,27.34 256.04,26.34 257.44,26.11"/><polygon points="263.08,24.85 263.73,26.11 265.13,26.34 264.13,27.34 264.35,28.74 263.08,28.1 261.82,28.74 262.04,27.34 261.04,26.34 262.44,26.11"/><polygon points="282.04,24.85 282.69,26.11 284.08,26.34 283.09,27.34 283.3,28.74 282.04,28.1 280.78,28.74 280.99,27.34 280,26.34 281.39,26.11"/><polygon points="287.04,24.85 287.69,26.11 289.08,26.34 288.09,27.34 288.3,28.74 287.04,28.1 285.78,28.74 285.99,27.34 285,26.34 286.39,26.11"/><polygon points="292.04,24.85 292.69,26.11 294.08,26.34 293.09,27.34 293.3,28.74 292.04,28.1 290.78,28.74 290.99,27.34 290,26.34 291.39,26.11"/><polygon points="297.04,24.85 297.69,26.11 299.08,26.34 298.09,27.34 298.3,28.74 297.04,28.1 295.78,28.74 295.99,27.34 295,26.34 296.39,26.11"/><polygon points="313.49,24.85 314.14,26.11 315.54,26.34 314.54,27.34 314.76,28.74 313.49,28.1 312.23,28.74 312.45,27.34 311.45,26.34 312.85,26.11"/><polygon points="318.49,24.85 319.14,26.11 320.54,26.34 319.54,27.34 319.76,28.74 318.49,28.1 317.23,28.74 317.45,27.34 316.45,26.34 317.85,26.11"/><polygon points="323.49,24.85 324.14,26.11 325.54,26.34 324.54,27.34 324.76,28.74 323.49,28.1 322.23,28.74 322.45,27.34 321.45,26.34 322.85,26.11"/><polygon points="344.95,24.85 345.6,26.11 346.99,26.34 346,27.34 346.21,28.74 344.95,28.1 343.69,28.74 343.9,27.34 342.91,26.34 344.3,26.11"/><polygon points="349.95,24.85 350.6,26.11 351.99,26.34 351,27.34 351.21,28.74 349.95,28.1 348.69,28.74 348.9,27.34 347.91,26.34 349.3,26.11"/><polygon points="371.4,24.85 372.05,26.11 373.45,26.34 372.45,27.34 372.67,28.74 371.4,28.1 370.14,28.74 370.36,27.34 369.36,26.34 370.76,26.11"/><polygon points="376.4,24.85 377.05,26.11 378.45,26.34 377.45,27.34 377.67,28.74 376.4,28.1 375.14,28.74 375.36,27.34 374.36,26.34 375.76,26.11"/><polygon points="381.4,24.85 382.05,26.11 383.45,26.34 382.45,27.34 382.67,28.74 381.4,28.1 380.14,28.74 380.36,27.34 379.36,26.34 380.76,26.11"/><polygon points="400.36,24.85 401.01,26.11 402.4,26.34 401.41,27.34 401.62,28.74 400.36,28.1 399.1,28.74 399.31,27.34 398.32,26.34 399.71,26.11"/><polygon points="405.36,24.85 406.01,26.11 407.4,26.34 406.41,27.34 406.62,28.74 405.36,28.1 404.1,28.74 404.31,27.34 403.32,26.34 404.71,26.11"/><polygon points="410.36,24.85 411.01,26.11 412.4,26.34 411.41,27.34 411.62,28.74 410.36,28.1 409.1,28.74 409.31,27.34 408.32,26.34 409.71,26.11"/><polygon points="429.31,24.85 429.96,26.11 431.36,26.34 430.36,27.34 430.58,28.74 429.31,28.1 428.05,28.74 428.27,27.34 427.27,26.34 428.67,26.11"/><polygon points="434.31,24.85 434.96,26.11 436.36,26.34 435.36,27.34 435.58,28.74 434.31,28.1 433.05,28.74 433.27,27.34 432.27,26.34 433.67,26.11"/><polygon points="439.31,24.85 439.96,26.11 441.36,26.34 440.36,27.34 440.58,28.74 439.31,28.1 438.05,28.74 438.27,27.34 437.27,26.34 438.67,26.11"/><polygon points="458.27,24.85 458.92,26.11 460.31,26.34 459.32,27.34 459.53,28.74 458.27,28.1 457.01,28.74 457.22,27.34 456.23,26.34 457.62,26.11"/><polygon points="463.27,24.85 463.92,26.11 465.31,26.34 464.32,27.34 464.53,28.74 463.27,28.1 462.01,28.74 462.22,27.34 461.23,26.34 462.62,26.11"/><polygon points="468.27,24.85 468.92,26.11 470.31,26.34 469.32,27.34 469.53,28.74 468.27,28.1 467.01,28.74 467.22,27.34 466.23,26.34 467.62,26.11"/><text x="491.62" y="33.6" text-anchor="middle" font-size="12">ns</text><polygon points="516.18,24.85 516.83,26.11 518.22,26.34 517.23,27.34 517.44,28.74 516.18,28.1 514.92,28.74 515.13,27.34 514.14,26.34 515.53,26.11"/><polygon points="521.18,24.85 521.83,26.11 523.22,26.34 522.23,27.34 522.44,28.74 521.18,28.1 519.92,28.74 520.13,27.34 519.14,26.34 520.53,26.11"/><polygon points="526.18,24.85 526.83,26.11 528.22,26.34 527.23,27.34 527.44,28.74 526.18,28.1 524.92,28.74 525.13,27.34 524.14,26.34 525.53,26.11"/><polygon points="545.13,24.85 545.78,26.11 547.18,26.34 546.18,27.34 546.4,28.74 545.13,28.1 543.87,28.74 544.09,27.34 543.09,26.34 544.49,26.11"/><polygon points="550.13,24.85 550.78,26.11 552.18,26.34 551.18,27.34 551.4,28.74 550.13,28.1 548.87,28.74 549.09,27.34 548.09,26.34 549.49,26.11"/><polygon points="555.13,24.85 555.78,26.11 557.18,26.34 556.18,27.34 556.4,28.74 555.13,28.1 553.87,28.74 554.09,27.34 553.09,26.34 554.49,26.11"/><polygon points="574.09,24.85 574.74,26.11 576.13,26.34 575.14,27.34 575.35,28.74 574.09,28.1 572.83,28.74 573.04,27.34 572.05,26.34 573.44,26.11"/><polygon points="579.09,24.85 579.74,26.11 581.13,26.34 580.14,27.34 580.35,28.74 579.09,28.1 577.83,28.74 578.04,27.34 577.05,26.34 578.44,26.11"/><polygon points="584.09,24.85 584.74,26.11 586.13,26.34 585.14,27.34 585.35,28.74 584.09,28.1 582.83,28.74 583.04,27.34 582.05,26.34 583.44,26.11"/><polygon points="603.04,24.85 603.69,26.11 605.09,26.34 604.09,27.34 604.31,28.74 603.04,28.1 601.78,28.74 602,27.34 601,26.34 602.4,26.11"/><polygon points="608.04,24.85 608.69,26.11 610.09,26.34 609.09,27.34 609.31,28.74 608.04,28.1 606.78,28.74 607,27.34 606,26.34 607.4,26.11"/><polygon points="613.04,24.85 613.69,26.11 615.09,26.34 614.09,27.34 614.31,28.74 613.04,28.1 611.78,28.74 612,27.34 611,26.34 612.4,26.11"/><polygon points="632,24.85 632.65,26.11 634.04,26.34 633.05,27.34 633.26,28.74 632,28.1 630.74,28.74 630.95,27.34 629.96,26.34 631.35,26.11"/><polygon points="637,24.85 637.65,26.11 639.04,26.34 638.05,27.34 638.26,28.74 637,28.1 635.74,28.74 635.95,27.34 634.96,26.34 636.35,26.11"/><polygon points="642,24.85 642.65,26.11 644.04,26.34 643.05,27.34 643.26,28.74 642,28.1 640.74,28.74 640.95,27.34 639.96,26.34 641.35,26.11"/><polygon points="660.95,24.85 661.6,26.11 663,26.34 662,27.34 662.22,28.74 660.95,28.1 659.69,28.74 659.91,27.34 658.91,26.34 660.31,26.11"/><polygon points="665.95,24.85 666.6,26.11 668,26.34 667,27.34 667.22,28.74 665.95,28.1 664.69,28.74 664.91,27.34 663.91,26.34 665.31,26.11"/><polygon points="670.95,24.85 671.6,26.11 673,26.34 672,27.34 672.22,28.74 670.95,28.1 669.69,28.74 669.91,27.34 668.91,26.34 670.31,26.11"/></g>
<text transform="translate(8.4,122.8) rotate(-90)" text-anchor="middle" font-size="10.67" font-weight="bold" fill="#000">CN</text>
<text x="361.6" y="270.7" text-anchor="middle" font-size="10.77" font-weight="bold" fill="#000">centromeric regions</text>
</svg>
</body></html>
